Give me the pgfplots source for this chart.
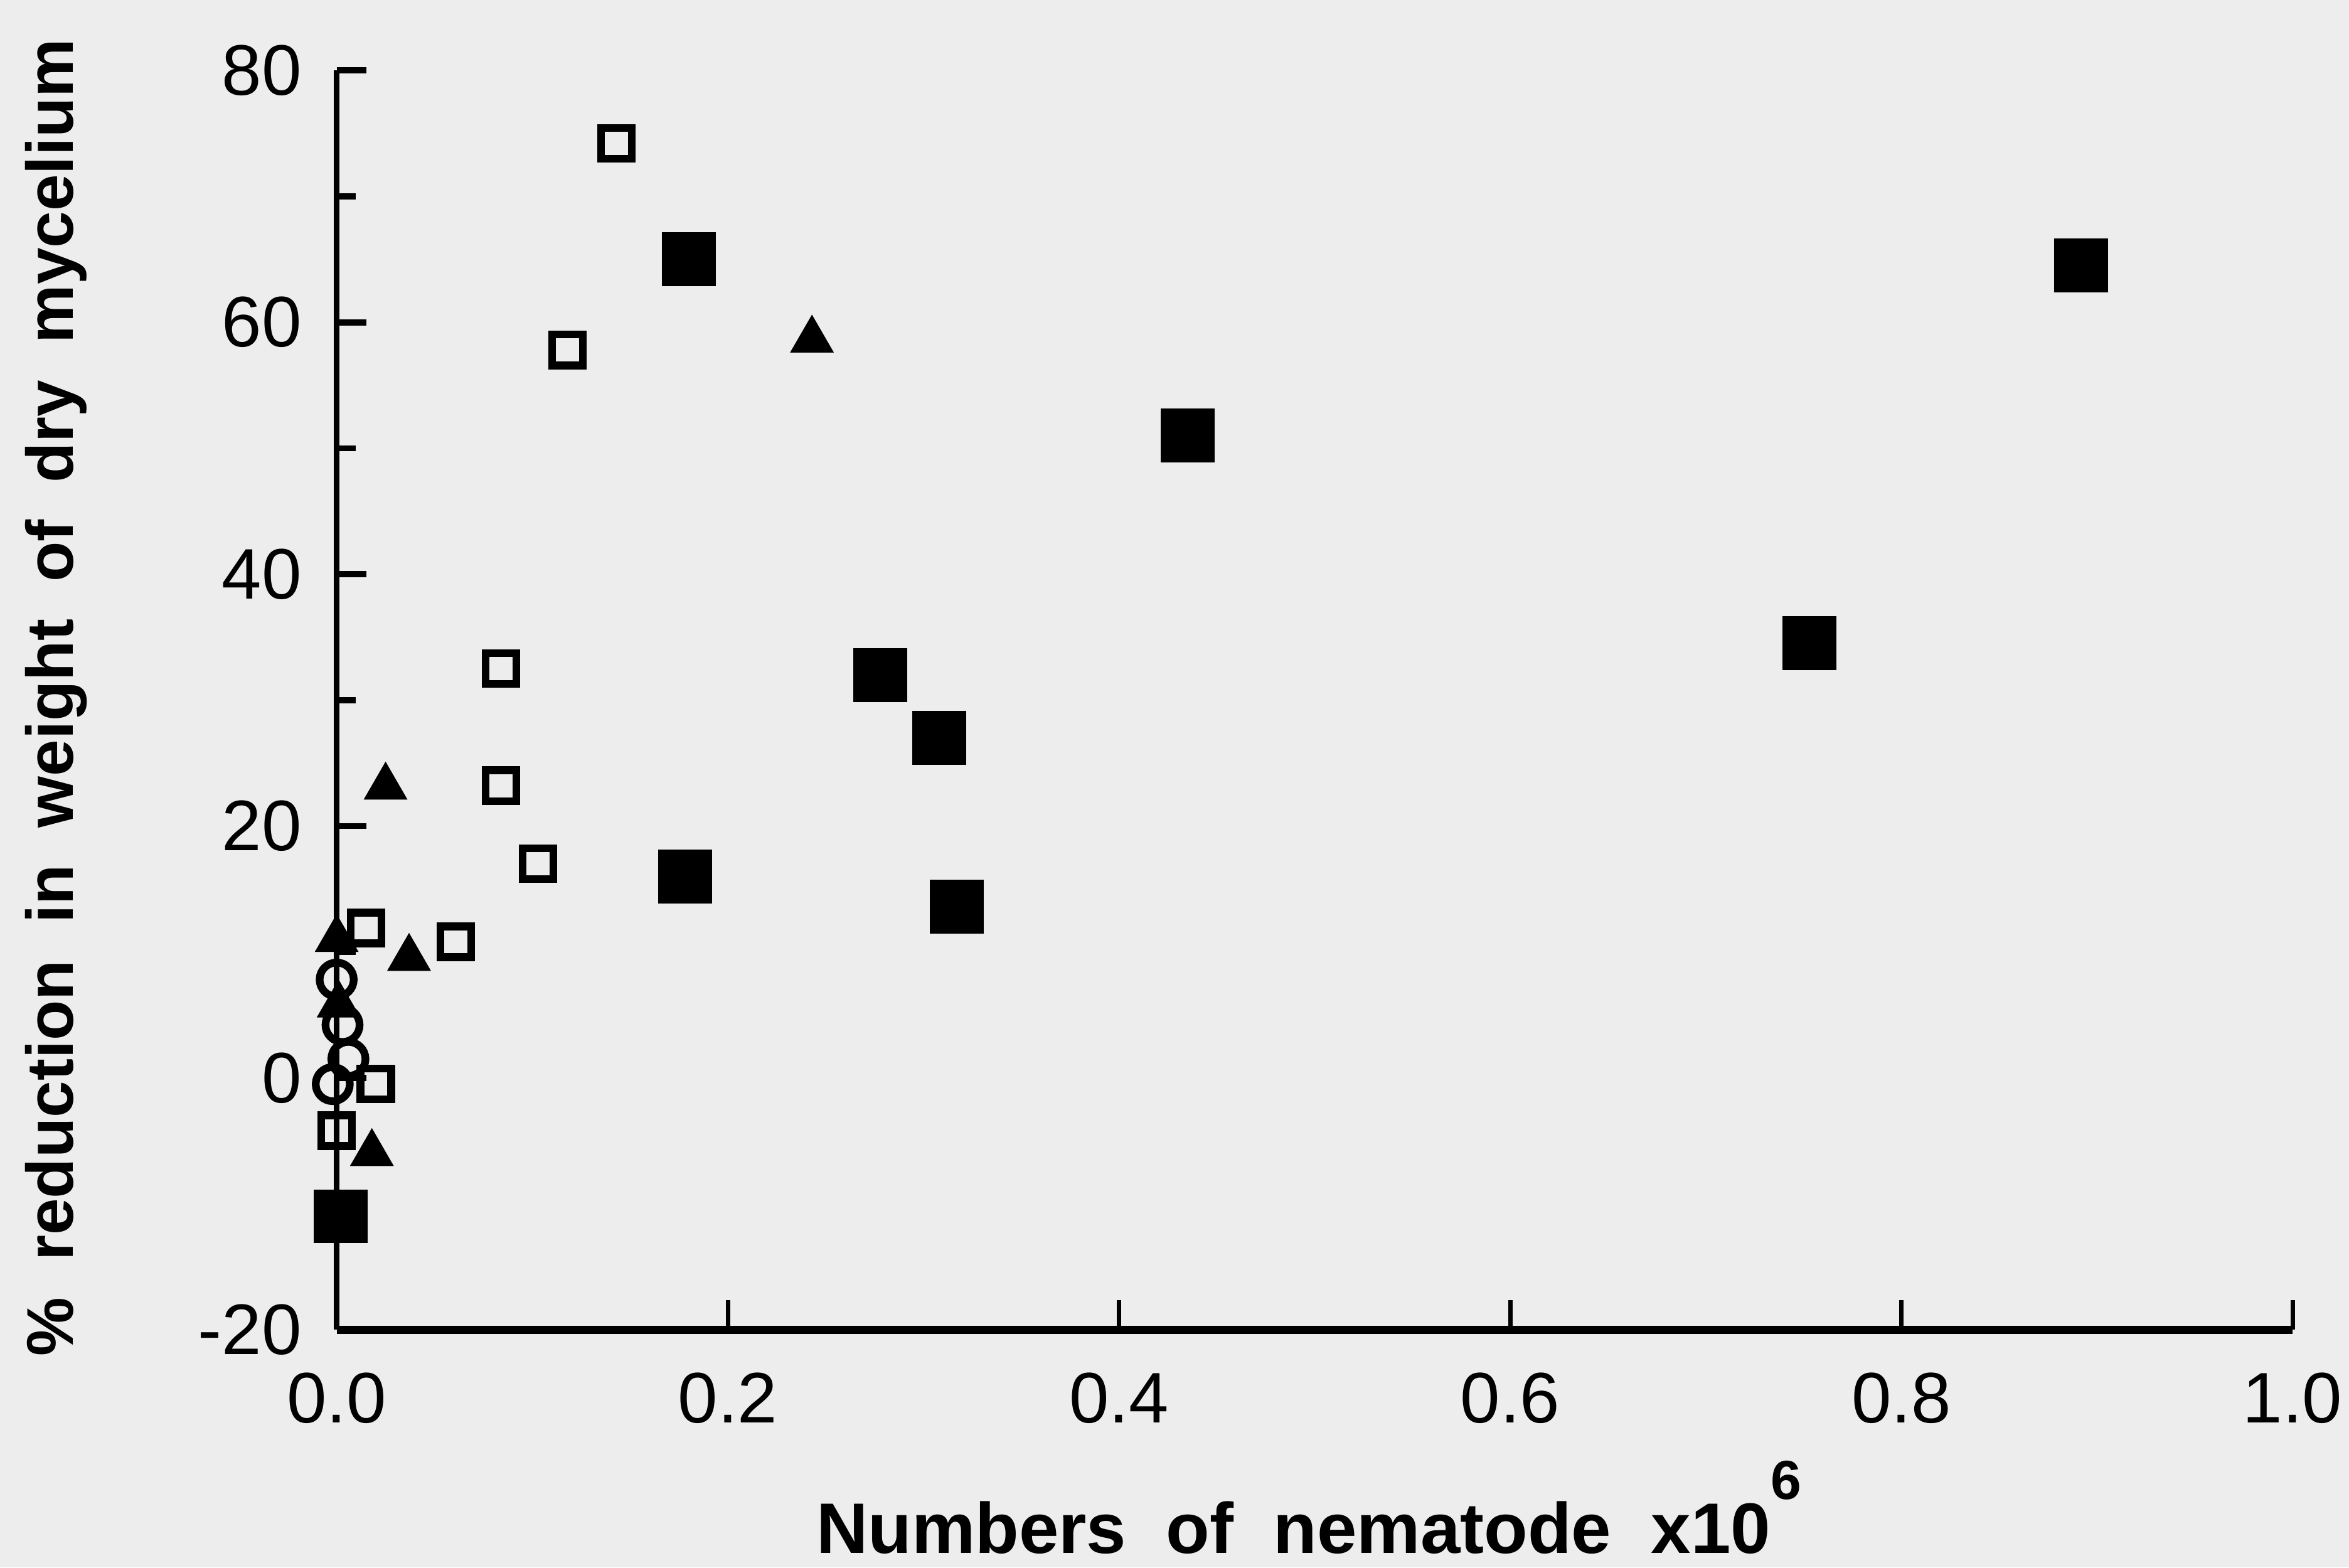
\documentclass[border=0pt]{standalone}
\usepackage{pgfplots}
\pgfplotsset{compat=1.18}
\usepackage{fontspec}
\setmainfont{Liberation Sans}
\definecolor{paper}{rgb}{0.93,0.93,0.93}
\begin{document}
\begin{tikzpicture}
\fill[paper] (-2.15,-1.52) rectangle (12.85,8.49);
\begin{axis}[
  at={(0,0)}, anchor=south west,
  scale only axis, width=12.49cm, height=8.04cm,
  xmin=0, xmax=1, ymin=-20, ymax=80,
  clip=false,
  axis x line*=bottom, axis y line*=left,
  x axis line style={line width=1.5pt, -},
  y axis line style={line width=1.1pt, -},
  tick align=inside,
  xtick={0,0.2,0.4,0.6,0.8,1.0},
  xticklabels={0.0,0.2,0.4,0.6,0.8,1.0},
  ytick={-20,0,20,40,60,80},
  yticklabels={-20,0,20,40,60,80},
  minor ytick={-10,10,30,50,70},
  major tick length=0.19cm, minor tick length=0.12cm,
  x tick style={line width=0.8pt, black},
  y tick style={line width=1.1pt, black},
  minor tick style={black},
  xticklabel style={font=\fontsize{13}{15}\selectfont, yshift=-0.15cm},
  yticklabel style={font=\fontsize{13}{15}\selectfont, xshift=-0.1cm},
  xlabel={Numbers\ \ of\ \ nematode\ \ x10\raisebox{0.75em}{\fontsize{10}{10}\selectfont 6}},
  xlabel style={font=\bfseries\fontsize{13}{15}\selectfont, at={(axis description cs:0.497,-0.1774)}, anchor=base},
  ylabel={\%\ \ reduction\ \ in\ \ weight\ \ of\ \ dry\ \ mycelium},
  ylabel style={font=\bfseries\fontsize{12}{15}\selectfont, at={(axis description cs:-0.1433,0.502)}, anchor=center},
]
% filled triangles
\addplot[only marks, mark=triangle*, mark size=4.2pt, black, mark options={fill=black}] coordinates {
 (0.243,58.6) (0.025,23.1) (0.037,9.5) (0.018,-6.0) (0.0,11.0) (0.001,5.8)
};
% open circles
\addplot[only marks, mark=o, mark size=3.1pt, black, mark options={line width=1.4pt, fill=paper}] coordinates {
 (0.0,7.8) (0.003,4.2) (0.006,1.5) (-0.002,-0.5)
};
% open squares
\addplot[only marks, mark=square, mark size=2.8pt, black, mark options={line width=1.4pt, fill=paper}] coordinates {
 (0.143,74.2) (0.118,57.8) (0.084,32.5) (0.084,23.2) (0.103,17) (0.061,10.8) (0.015,11.9) (0.020,-0.5) (0.0,-4.2)
};
% filled squares
\addplot[only marks, mark=square*, mark size=4.7pt, black, mark options={fill=black}] coordinates {
 (0.180,65) (0.892,64.5) (0.435,51) (0.753,34.5) (0.278,32) (0.308,27) (0.178,16) (0.317,13.6) (0.002,-11)
};
\end{axis}
\pgfresetboundingbox
\path (-2.15,-1.52) rectangle (12.85,8.49);
\end{tikzpicture}
\end{document}
